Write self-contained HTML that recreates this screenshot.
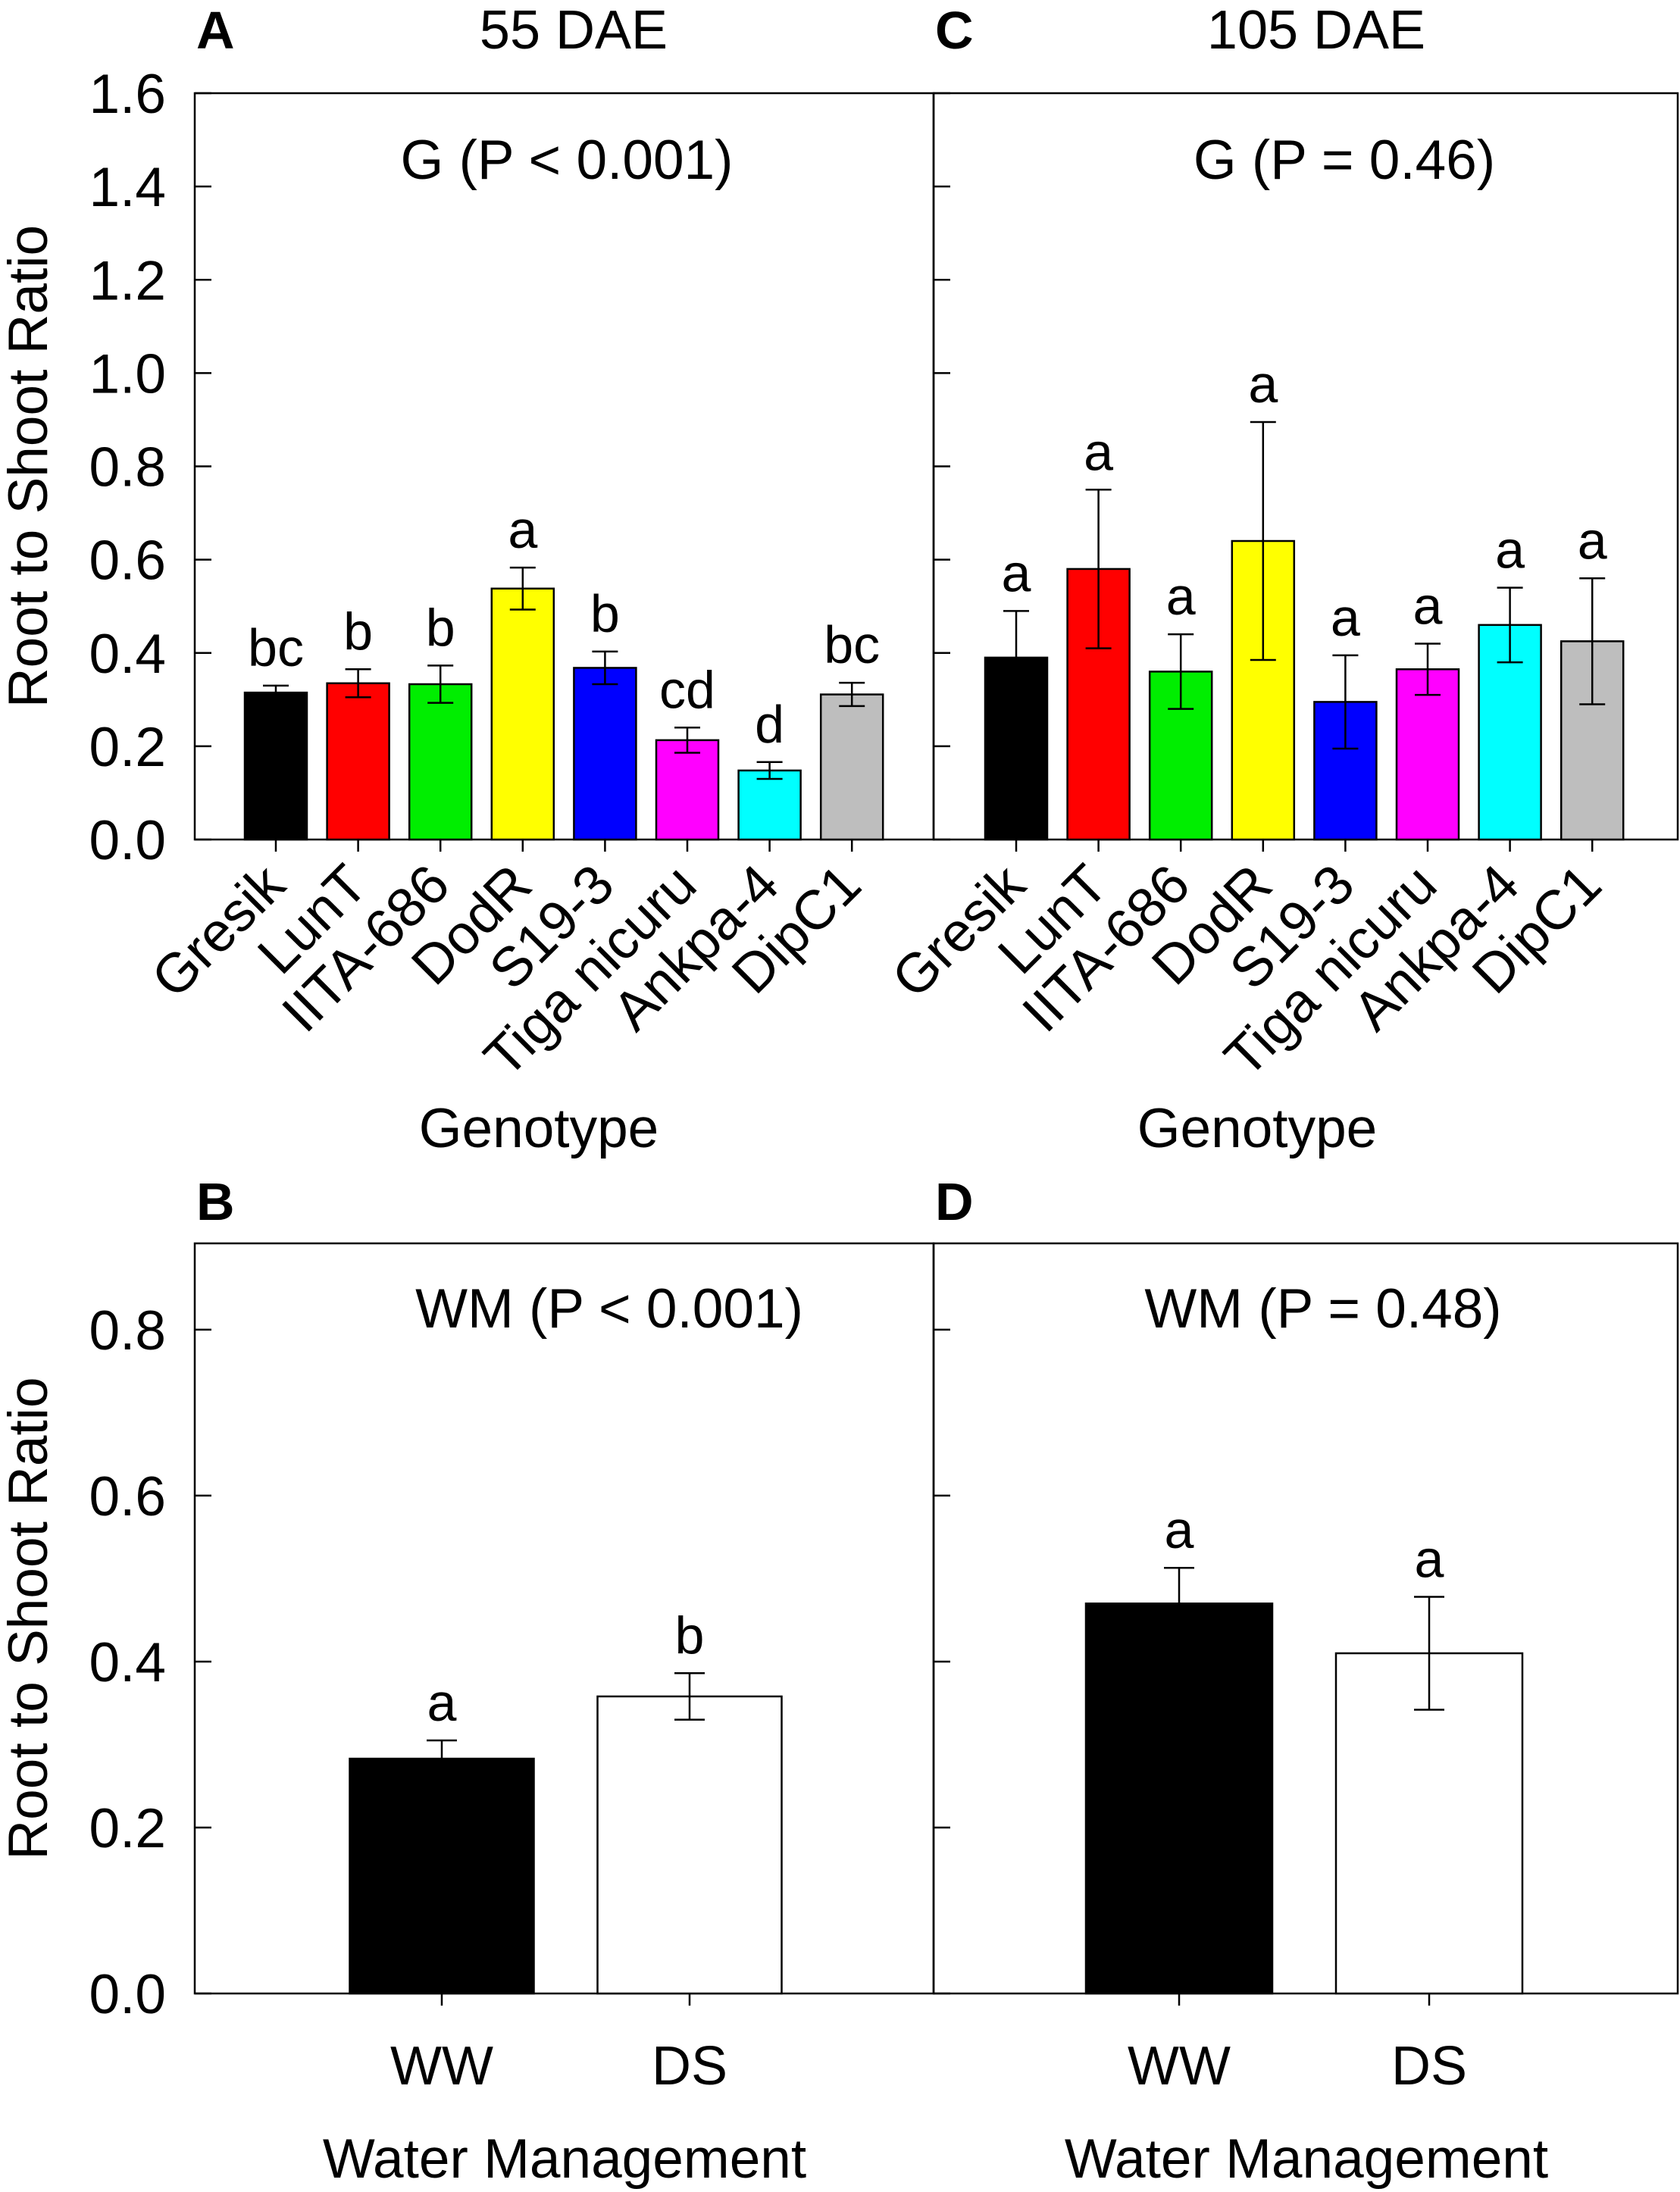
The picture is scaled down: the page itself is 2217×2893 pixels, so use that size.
<!DOCTYPE html>
<html><head><meta charset="utf-8"><style>
html,body{margin:0;padding:0;background:#fff;}
svg{display:block;font-family:"Liberation Sans",Arial,sans-serif;}
</style></head><body>
<svg id="fig" xmlns="http://www.w3.org/2000/svg" width="2217" height="2893" viewBox="0 0 2217 2893"></svg>
<script>
const genotypes = ["Gresik","LunT","IITA-686","DodR","S19-3","Tiga nicuru","Ankpa-4","DipC1"];
const genoColors = ["#000000","#ff0000","#00ee00","#ffff00","#0000ff","#ff00ff","#00ffff","#bebebe"];
const valuesA = [0.315,0.335,0.333,0.538,0.368,0.213,0.148,0.311];
const errA = [0.015,0.03,0.04,0.045,0.035,0.027,0.018,0.025];
const lettersA = ["bc","b","b","a","b","cd","d","bc"];
const valuesC = [0.39,0.58,0.36,0.64,0.295,0.365,0.46,0.425];
const errC = [0.1,0.17,0.08,0.255,0.1,0.055,0.08,0.135];
const lettersC = ["a","a","a","a","a","a","a","a"];
const wmCats = ["WW","DS"];
const wmColors = ["#000000","#ffffff"];
const valuesB = [0.283,0.358];
const errB = [0.022,0.028];
const lettersB = ["a","b"];
const valuesD = [0.47,0.41];
const errD = [0.043,0.068];
const lettersD = ["a","a"];
const ticksTop = [0,0.2,0.4,0.6,0.8,1.0,1.2,1.4,1.6];
const ticksBot = [0,0.2,0.4,0.6,0.8];

const NS="http://www.w3.org/2000/svg";
const svg=document.getElementById('fig');
function mk(tag,attrs,parent,text){const e=document.createElementNS(NS,tag);for(const k in attrs)e.setAttribute(k,attrs[k]);if(text!==undefined)e.textContent=text;(parent||svg).appendChild(e);return e;}

function panel(opt){
  const g=mk('g',{});
  
  
  const {x0,x1,yTop,yBot,ymax}=opt;
  const y=v=>yBot-(v/ymax)*(yBot-yTop);
  const r=mk('rect',{x:x0,y:yTop,width:x1-x0,height:yBot-yTop,fill:'none',stroke:'#000','stroke-width':2.5},g);
  
  
  opt.ticks.forEach(t=>{
    const l=mk('line',{x1:x0,x2:x0+22,y1:y(t),y2:y(t),stroke:'#000','stroke-width':2.5},g);
    
    
    if(opt.ylabels){
      const tx=mk('text',{x:x0-38,y:y(t)+26,'font-size':73,'text-anchor':'end'},g,t.toFixed(1));
      
      
    }
  });
  opt.vals.forEach((v,i)=>{
    const cx=opt.cx(i);
    const b=mk('rect',{x:cx-opt.bw/2,y:y(v),width:opt.bw,height:yBot-y(v),fill:opt.colors[i],stroke:'#000','stroke-width':2.5},g);
    
    
    const e=opt.err[i],cap=opt.cap;
    const eb=mk('path',{d:`M${cx},${y(v+e)}V${y(v-e)}M${cx-cap},${y(v+e)}H${cx+cap}M${cx-cap},${y(v-e)}H${cx+cap}`,stroke:'#000','stroke-width':2.5,fill:'none'},g);
    
    
    const lt=mk('text',{x:cx,y:y(v+e)-26,'font-size':70,'text-anchor':'middle'},g,opt.letters[i]);
    
    
    const tk=mk('line',{x1:cx,x2:cx,y1:yBot,y2:yBot+16,stroke:'#000','stroke-width':2.5},g);
    
    
    let xl;
    if(opt.rot){
      xl=mk('text',{x:cx+16,y:yBot+64,'font-size':73,'text-anchor':'end',transform:`rotate(-45 ${cx+16} ${yBot+64})`},g,opt.cats[i]);
    } else {
      xl=mk('text',{x:cx,y:yBot+120,'font-size':72,'text-anchor':'middle'},g,opt.cats[i]);
    }
    
    
  });
  const an=mk('text',{x:opt.annX,y:opt.annY,'font-size':73,'text-anchor':'middle'},g,opt.ann);
  
  
  const xt=mk('text',{x:opt.xtX,y:opt.xtY,'font-size':73,'text-anchor':'middle'},g,opt.xtitle);
  
  
  const pl=mk('text',{x:opt.x0+2,y:opt.plY,'font-size':70,'font-weight':'bold'},g,opt.letter);
  
  
  if(opt.title){
    const tt=mk('text',{x:opt.titleX,y:opt.plY,'font-size':72,'text-anchor':'middle'},g,opt.title);
    
    
  }
  if(opt.ylabels){
    const yt=mk('text',{x:0,y:0,'font-size':73,'text-anchor':'middle',transform:`translate(62 ${(yTop+yBot)/2}) rotate(-90)`},g,'Root to Shoot Ratio');
    
    
  }
}
panel({name:'panel-a',x0:257,x1:1232,yTop:123,yBot:1108,ymax:1.6,ticks:ticksTop,ylabels:true,vals:valuesA,err:errA,letters:lettersA,cats:genotypes,colors:genoColors,cx:i=>364+i*108.6,bw:82,cap:17,rot:true,ann:'G (P < 0.001)',annX:748,annY:236,xtitle:'Genotype',xtX:711,xtY:1514,letter:'A',plY:64,title:'55 DAE',titleX:757});
panel({name:'panel-c',x0:1232,x1:2214,yTop:123,yBot:1108,ymax:1.6,ticks:ticksTop,ylabels:false,vals:valuesC,err:errC,letters:lettersC,cats:genotypes,colors:genoColors,cx:i=>1341+i*108.6,bw:82,cap:17,rot:true,ann:'G (P = 0.46)',annX:1774,annY:236,xtitle:'Genotype',xtX:1659,xtY:1514,letter:'C',plY:64,title:'105 DAE',titleX:1737});
panel({name:'panel-b',x0:257,x1:1232,yTop:1641,yBot:2631,ymax:0.904,ticks:ticksBot,ylabels:true,vals:valuesB,err:errB,letters:lettersB,cats:wmCats,colors:wmColors,cx:i=>583+i*327,bw:243,cap:20,rot:false,ann:'WM (P < 0.001)',annX:804,annY:1752,xtitle:'Water Management',xtX:745,xtY:2874,letter:'B',plY:1610});
panel({name:'panel-d',x0:1232,x1:2214,yTop:1641,yBot:2631,ymax:0.904,ticks:ticksBot,ylabels:false,vals:valuesD,err:errD,letters:lettersD,cats:wmCats,colors:wmColors,cx:i=>1556+i*330,bw:246,cap:20,rot:false,ann:'WM (P = 0.48)',annX:1746,annY:1752,xtitle:'Water Management',xtX:1724,xtY:2874,letter:'D',plY:1610});
</script>
</body></html>
